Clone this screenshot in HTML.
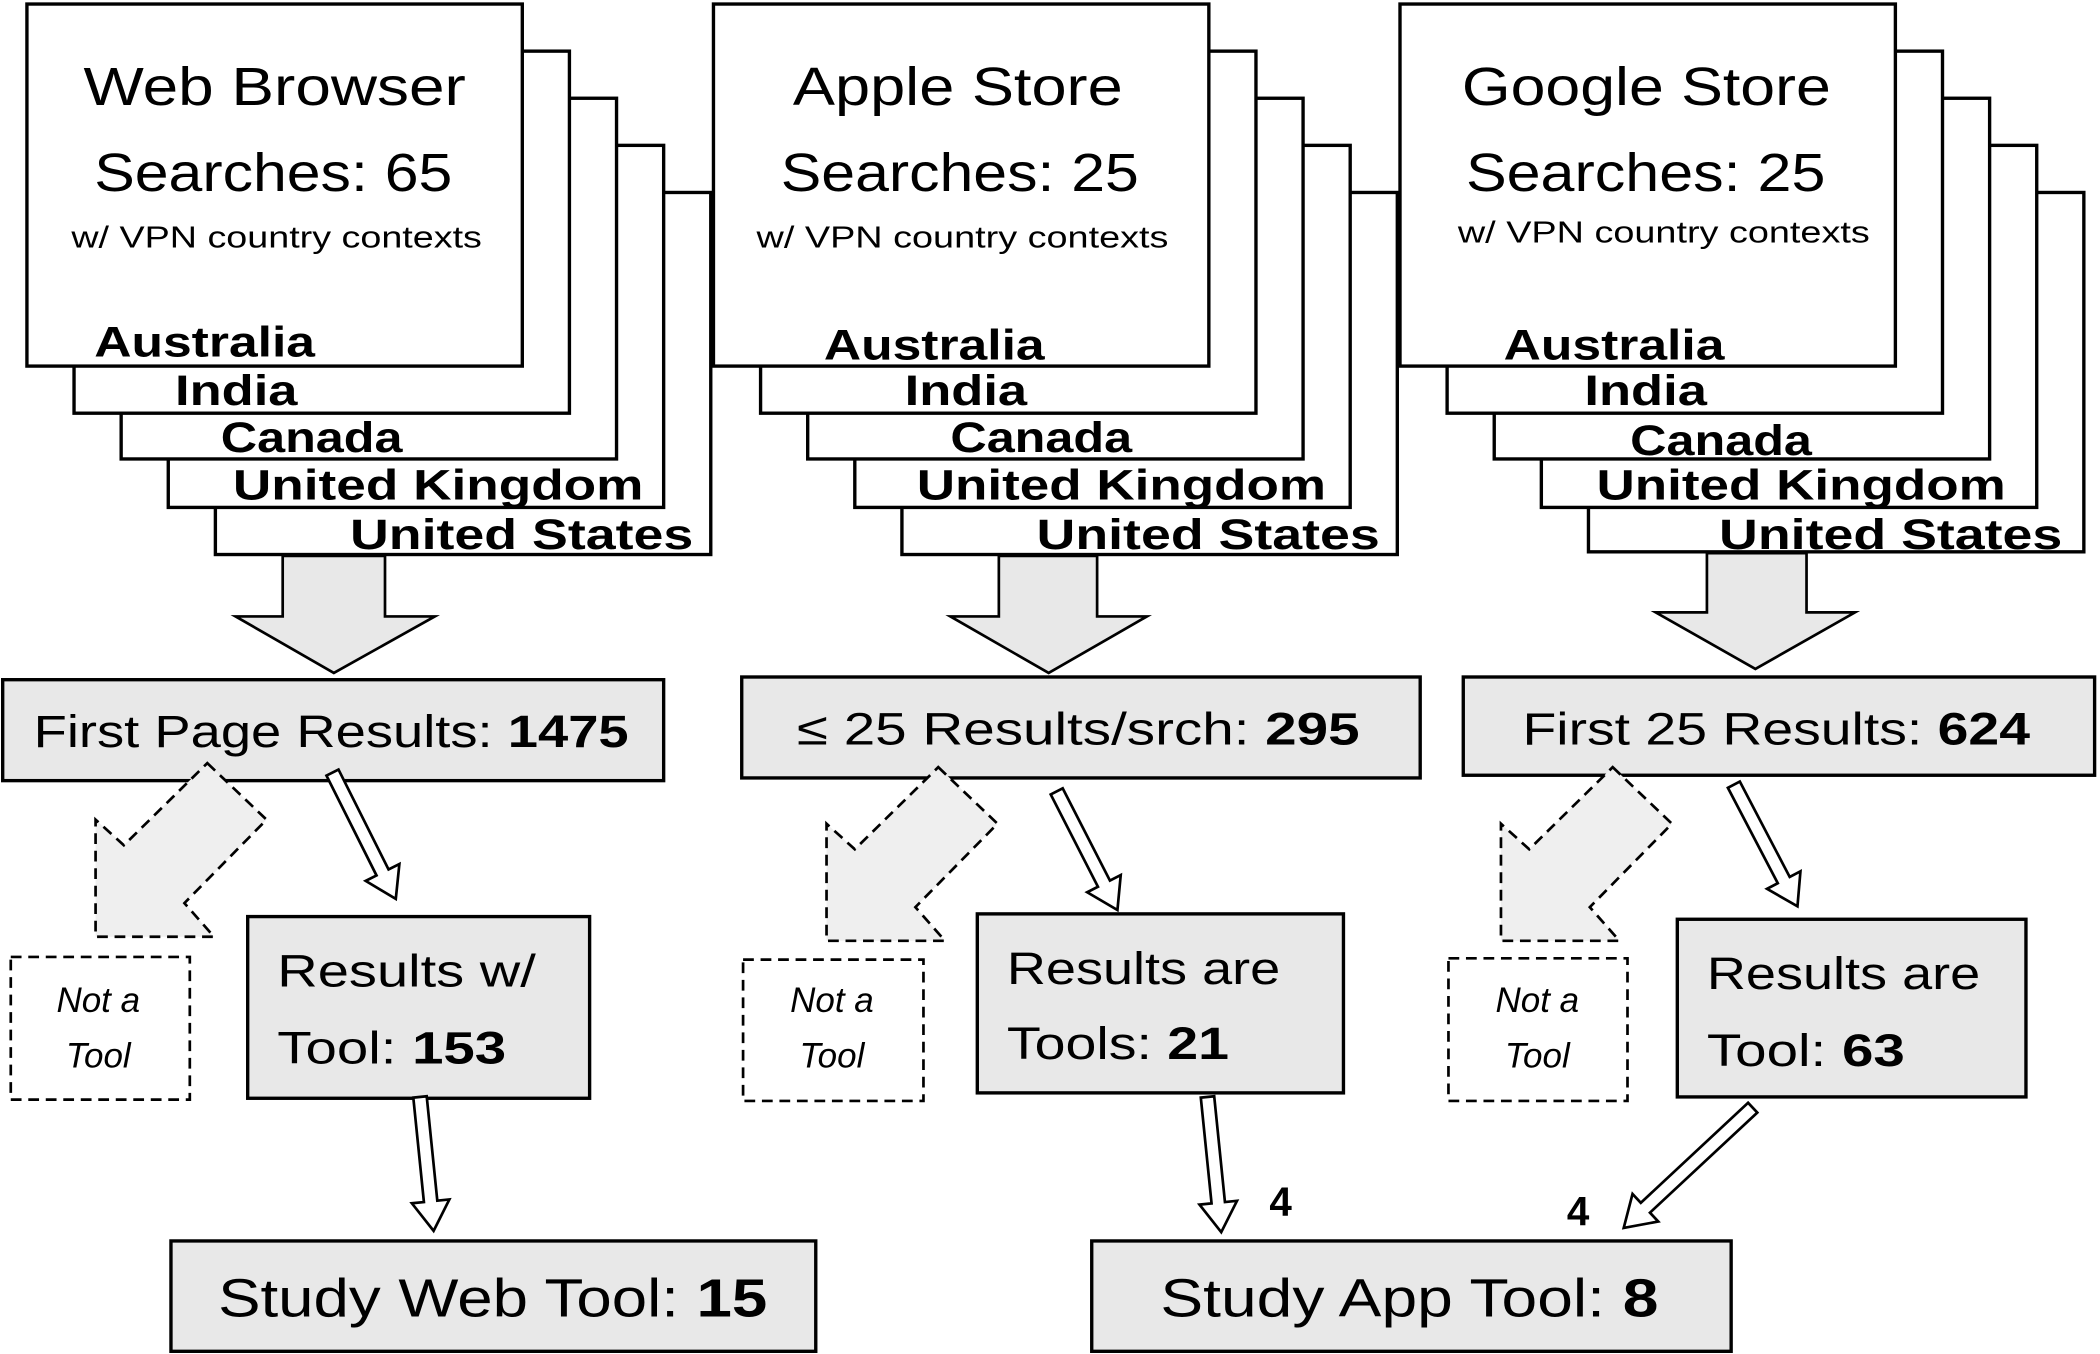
<!DOCTYPE html>
<html><head><meta charset="utf-8"><style>
html,body{margin:0;padding:0;background:#fff;}
svg{display:block;}
text{font-family:"Liberation Sans",sans-serif;fill:#000;}
.t{font-size:40px;}
.v{font-size:23px;}
.c{font-size:32px;font-weight:bold;}
.r{font-size:34px;}
.n{font-size:26px;font-style:italic;}
.s{font-size:40px;}
.b{font-weight:bold;}
</style></head><body>
<svg width="2100" height="1354" viewBox="0 0 1560 1006" preserveAspectRatio="none" xmlns="http://www.w3.org/2000/svg">
<defs>
<g id="stackshapes">
</g>
</defs>
<g fill="#fff" stroke="#000" stroke-width="2.5">
<!-- Web stack -->
<rect x="160" y="143" width="368" height="269"/>
<rect x="125" y="108" width="368" height="269"/>
<rect x="90" y="73" width="368" height="268"/>
<rect x="55" y="38" width="368" height="269"/>
<rect x="20" y="3" width="368" height="269"/>
<!-- Apple stack -->
<rect x="670" y="143" width="368" height="269"/>
<rect x="635" y="108" width="368" height="269"/>
<rect x="600" y="73" width="368" height="268"/>
<rect x="565" y="38" width="368" height="269"/>
<rect x="530" y="3" width="368" height="269"/>
<!-- Google stack -->
<rect x="1180" y="143" width="368" height="267"/>
<rect x="1145" y="108" width="368" height="269"/>
<rect x="1110" y="73" width="368" height="268"/>
<rect x="1075" y="38" width="368" height="269"/>
<rect x="1040" y="3" width="368" height="269"/>
</g>
<!-- stack text -->
<text class="t" x="62" y="78" textLength="284" lengthAdjust="spacingAndGlyphs">Web Browser</text>
<text class="t" x="70" y="142" textLength="266" lengthAdjust="spacingAndGlyphs">Searches: 65</text>
<text class="v" x="53" y="184" textLength="305" lengthAdjust="spacingAndGlyphs">w/ VPN country contexts</text>
<text class="c" x="70" y="265" textLength="164" lengthAdjust="spacingAndGlyphs">Australia</text>
<text class="c" x="130" y="301" textLength="91" lengthAdjust="spacingAndGlyphs">India</text>
<text class="c" x="164" y="336" textLength="135" lengthAdjust="spacingAndGlyphs">Canada</text>
<text class="c" x="173" y="371" textLength="305" lengthAdjust="spacingAndGlyphs">United Kingdom</text>
<text class="c" x="260" y="408" textLength="255" lengthAdjust="spacingAndGlyphs">United States</text>

<text class="t" x="589" y="78" textLength="245" lengthAdjust="spacingAndGlyphs">Apple Store</text>
<text class="t" x="580" y="142" textLength="266" lengthAdjust="spacingAndGlyphs">Searches: 25</text>
<text class="v" x="562" y="184" textLength="306" lengthAdjust="spacingAndGlyphs">w/ VPN country contexts</text>
<text class="c" x="612" y="267" textLength="164" lengthAdjust="spacingAndGlyphs">Australia</text>
<text class="c" x="672" y="301" textLength="91" lengthAdjust="spacingAndGlyphs">India</text>
<text class="c" x="706" y="336" textLength="135" lengthAdjust="spacingAndGlyphs">Canada</text>
<text class="c" x="681" y="371" textLength="304" lengthAdjust="spacingAndGlyphs">United Kingdom</text>
<text class="c" x="770" y="408" textLength="255" lengthAdjust="spacingAndGlyphs">United States</text>

<text class="t" x="1086" y="78" textLength="274" lengthAdjust="spacingAndGlyphs">Google Store</text>
<text class="t" x="1089" y="142" textLength="267" lengthAdjust="spacingAndGlyphs">Searches: 25</text>
<text class="v" x="1083" y="180" textLength="306" lengthAdjust="spacingAndGlyphs">w/ VPN country contexts</text>
<text class="c" x="1117" y="267" textLength="164" lengthAdjust="spacingAndGlyphs">Australia</text>
<text class="c" x="1177" y="301" textLength="91" lengthAdjust="spacingAndGlyphs">India</text>
<text class="c" x="1211" y="338" textLength="135" lengthAdjust="spacingAndGlyphs">Canada</text>
<text class="c" x="1186" y="371" textLength="304" lengthAdjust="spacingAndGlyphs">United Kingdom</text>
<text class="c" x="1277" y="408" textLength="255" lengthAdjust="spacingAndGlyphs">United States</text>

<!-- big arrows -->
<g fill="#e8e8e8" stroke="#000" stroke-width="2">
<polygon points="210,413 286,413 286,458 323,458 248,500 175,458 210,458"/>
<polygon points="742,413 815,413 815,458 852,458 779,500 706,458 742,458"/>
<polygon points="1268,411 1342,411 1342,455 1378,455 1304,497 1230,455 1268,455"/>
</g>

<!-- boxes -->
<g fill="#e8e8e8" stroke="#000" stroke-width="2.5">
<rect x="2" y="505" width="491" height="75"/>
<rect x="551" y="503" width="504" height="75"/>
<rect x="1087" y="503" width="469" height="73"/>
<rect x="184" y="681" width="254" height="135"/>
<rect x="726" y="679" width="272" height="133"/>
<rect x="1246" y="683" width="259" height="132"/>
<rect x="127" y="922" width="479" height="82"/>
<rect x="811" y="922" width="475" height="82"/>
</g>

<!-- dashed -->
<g fill="#efefef" stroke="#000" stroke-width="2" stroke-dasharray="8,5">
<polygon points="154,567 198,609 137,671 159,696 71,696 71,609 92,628"/>
<polygon points="697,570 741,612 680,674 702,699 614,699 614,612 635,631"/>
<polygon points="1198,570 1242,612 1181,674 1203,699 1115,699 1115,612 1136,631"/>
</g>
<g fill="#fff" stroke="#000" stroke-width="2" stroke-dasharray="8,5">
<rect x="8" y="711" width="133" height="106"/>
<rect x="552" y="713" width="134" height="105"/>
<rect x="1076" y="712" width="133" height="106"/>
</g>

<!-- thin arrows -->
<g fill="#fff" stroke="#000" stroke-width="2">
<polygon transform="translate(247,574) rotate(63.4)" points="0,-5 83,-5 83,-14 105,0 83,14 83,5 0,5"/>
<polygon transform="translate(312,815) rotate(84.2)" points="0,-5 78,-5 78,-14 100,0 78,14 78,5 0,5"/>
<polygon transform="translate(785,588) rotate(62.9)" points="0,-5 77,-5 77,-14 99,0 77,14 77,5 0,5"/>
<polygon transform="translate(897,815) rotate(84.2)" points="0,-5 79,-5 79,-14 101,0 79,14 79,5 0,5"/>
<polygon transform="translate(1288,583) rotate(62.4)" points="0,-5 80,-5 80,-14 102,0 80,14 80,5 0,5"/>
<polygon transform="translate(1302,823) rotate(137)" points="0,-5 109,-5 109,-14 131,0 109,14 109,5 0,5"/>
</g>

<!-- box text -->
<text class="r" x="25" y="555" textLength="442" lengthAdjust="spacingAndGlyphs">First Page Results: <tspan class="b">1475</tspan></text>
<text class="r" x="592" y="553" textLength="418" lengthAdjust="spacingAndGlyphs">≤ 25 Results/srch: <tspan class="b">295</tspan></text>
<text class="r" x="1131" y="553" textLength="377" lengthAdjust="spacingAndGlyphs">First 25 Results: <tspan class="b">624</tspan></text>

<text class="r" x="206" y="733" textLength="192" lengthAdjust="spacingAndGlyphs">Results  w/</text>
<text class="r" x="206" y="790" textLength="170" lengthAdjust="spacingAndGlyphs">Tool: <tspan class="b">153</tspan></text>
<text class="r" x="748" y="731" textLength="203" lengthAdjust="spacingAndGlyphs">Results  are</text>
<text class="r" x="748" y="787" textLength="165" lengthAdjust="spacingAndGlyphs">Tools: <tspan class="b">21</tspan></text>
<text class="r" x="1268" y="735" textLength="203" lengthAdjust="spacingAndGlyphs">Results  are</text>
<text class="r" x="1268" y="792" textLength="147" lengthAdjust="spacingAndGlyphs">Tool: <tspan class="b">63</tspan></text>

<text class="n" x="73" y="752" text-anchor="middle">Not a</text>
<text class="n" x="73" y="793" text-anchor="middle">Tool</text>
<text class="n" x="618" y="752" text-anchor="middle">Not a</text>
<text class="n" x="618" y="793" text-anchor="middle">Tool</text>
<text class="n" x="1142" y="752" text-anchor="middle">Not a</text>
<text class="n" x="1142" y="793" text-anchor="middle">Tool</text>

<text class="s" x="162" y="978" textLength="408" lengthAdjust="spacingAndGlyphs">Study Web Tool: <tspan class="b">15</tspan></text>
<text class="s" x="862" y="978" textLength="370" lengthAdjust="spacingAndGlyphs">Study App Tool: <tspan class="b">8</tspan></text>

<text class="b" x="943" y="903" style="font-size:30px">4</text>
<text class="b" x="1164" y="910" style="font-size:30px">4</text>
</svg>
</body></html>
